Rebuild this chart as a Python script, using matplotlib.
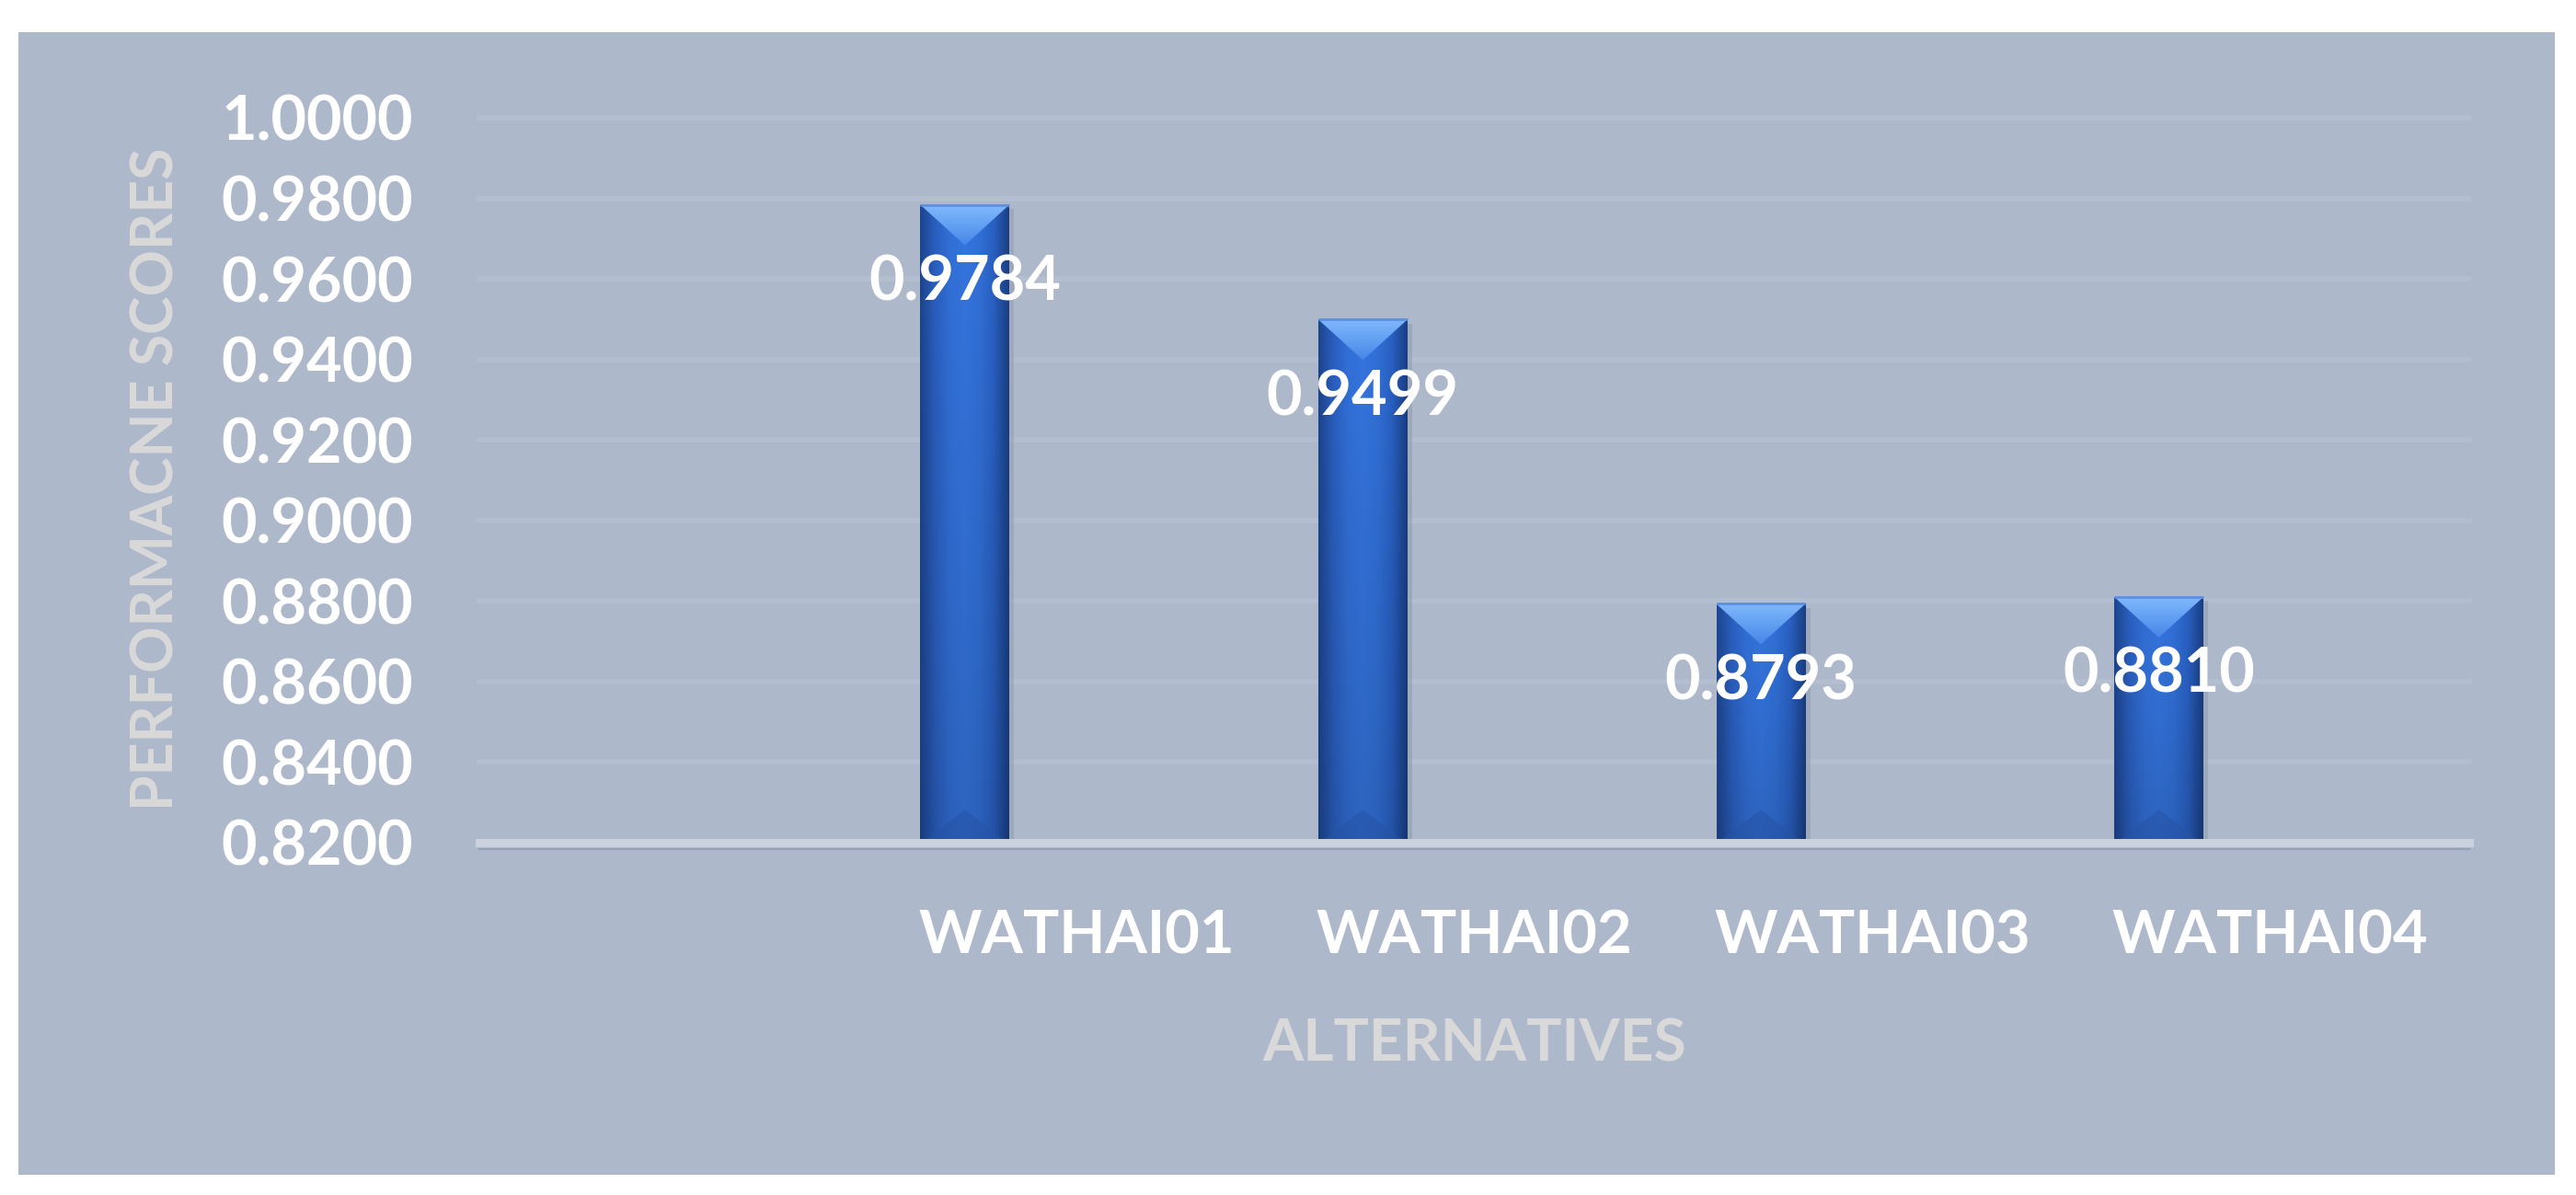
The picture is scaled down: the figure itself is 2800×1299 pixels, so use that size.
import numpy as np
import matplotlib
matplotlib.use("Agg")
import matplotlib.pyplot as plt
from matplotlib.patches import Rectangle, Polygon
from matplotlib.colors import to_rgb

# dados do gráfico
alternativas = ["WATHAI01", "WATHAI02", "WATHAI03", "WATHAI04"]
scores = [0.9784, 0.9499, 0.8793, 0.8810]
y_ticks = [0.82, 0.84, 0.86, 0.88, 0.90, 0.92, 0.94, 0.96, 0.98, 1.00]

FUNDO = "#adb8cb"
plt.rcParams["font.family"] = ["Lato", "DejaVu Sans"]
plt.rcParams["font.weight"] = "bold"

fig = plt.figure(figsize=(28, 12.99), dpi=100)
fig.patch.set_facecolor("white")
# área cinza do gráfico
fig.patches.append(Rectangle((20 / 2800, 22 / 1299), 2757 / 2800, 1242 / 1299,
                             transform=fig.transFigure, facecolor=FUNDO,
                             edgecolor="none", zorder=-5))

ax = fig.add_axes([521 / 2800, 383 / 1299, 2163 / 2800, 788 / 1299])
ax.set_facecolor("none")

pos = np.arange(1, len(alternativas) + 1)
largura = 0.224
barras = ax.bar(pos - 0.28, scores, width=largura, bottom=0,
                color="#2f69d0", edgecolor="none", zorder=3)


def gradiente(cores, n=64):
    cs = np.array([to_rgb(c) for c in cores])
    xs = np.linspace(0, 1, len(cores))
    t = np.linspace(0, 1, n)
    return np.stack([np.interp(t, xs, cs[:, k]) for k in range(3)], axis=-1)


# perfil horizontal da barra (escuro nas bordas)
perfil = gradiente(["#1d4690", "#2b5fc0", "#3270d8", "#3575df", "#3170d8",
                    "#2960c2", "#1b3f84"])
vert = np.linspace(1.0, 0.86, 80)[:, None, None]
img_barra = np.clip(perfil[None, :, :] * vert, 0, 1)

d_top = 44 / 788 * 0.18
d_bot = 36 / 788 * 0.18
for b in barras:
    x0, w, h = b.get_x(), b.get_width(), b.get_height()
    ax.add_patch(Rectangle((x0 + 0.012, 0.82), w, h - 0.82 - 0.001,
                           facecolor="#8e99aa", alpha=0.5, edgecolor="none",
                           zorder=2))
    im = ax.imshow(img_barra, extent=[x0, x0 + w, 0.82, h], aspect="auto",
                   origin="upper", zorder=3.1, interpolation="bilinear")
    im.set_clip_path(b)
    tri = Polygon([(x0, h), (x0 + w, h), (x0 + w / 2, h - d_top)],
                  closed=True, facecolor="none", edgecolor="none", zorder=3.2)
    ax.add_patch(tri)
    topo = gradiente(["#80b8fc", "#62a0f3", "#4886e8"])[:, None, :]
    im2 = ax.imshow(np.repeat(topo, 8, axis=1), extent=[x0, x0 + w, h - d_top, h],
                    aspect="auto", origin="upper", zorder=3.2,
                    interpolation="bilinear")
    im2.set_clip_path(tri)
    ax.add_patch(Polygon([(x0 + 0.004, 0.82), (x0 + w - 0.004, 0.82),
                          (x0 + w / 2, 0.82 + d_bot)], closed=True,
                         facecolor="#2553a6", alpha=0.55, edgecolor="none",
                         zorder=3.3))
    ax.plot([x0, x0 + w], [h, h], color="#5f8fe0", lw=2, zorder=3.4,
            solid_capstyle="butt")

# rótulos de dados
for x, v in zip(pos - 0.28, scores):
    ax.annotate(f"{v:.4f}", xy=(x, v), xytext=(0, -61), textcoords="offset points",
                ha="center", va="center", color="white", fontsize=48,
                fontweight="bold", zorder=5)

# grade e eixo
ax.set_yticks(y_ticks)
ax.set_yticklabels([f"{t:.4f}" for t in y_ticks])
for t in y_ticks[1:]:
    ax.axhline(t, color="#b3bed0", lw=4, zorder=1, clip_on=False)
ax.axhline(0.82, color="#cad2de", lw=6.5, zorder=4, clip_on=False)
ax.plot([-0.5, 4.5], [0.8185, 0.8185], color="#98a2b2", lw=1.5, zorder=3.9,
        clip_on=False)

ax.set_xticks(pos)
ax.set_xticklabels(alternativas)
ax.tick_params(axis="y", length=0, pad=52, labelsize=48, labelcolor="white")
ax.tick_params(axis="x", length=0, pad=52, labelsize=47, labelcolor="white")
for s in ax.spines.values():
    s.set_visible(False)

ax.set_xlabel("ALTERNATIVES", fontsize=46, color="#d9d9d9", fontweight="bold",
              labelpad=43)
ax.set_ylabel("PERFORMACNE SCORES", fontsize=45, color="#d9d9d9",
              fontweight="bold", ha="center", va="center")
ax.yaxis.set_label_coords((171 - 521) / 2163, (916 - 521) / 788)
ax.set_xlim(-0.5, 4.5)
ax.set_ylim(0.82, 1.0)

fig.savefig("out.png", dpi=100, facecolor="white")
